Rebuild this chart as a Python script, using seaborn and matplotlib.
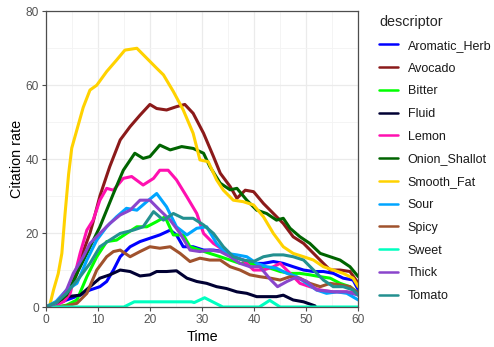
import numpy as np
import pandas as pd
import matplotlib
matplotlib.use("Agg")
import matplotlib.pyplot as plt
import seaborn as sns
from matplotlib.ticker import MultipleLocator

# ---------------- data ----------------
descriptors = ["Aromatic_Herb", "Avocado", "Bitter", "Fluid", "Lemon", "Onion_Shallot",
               "Smooth_Fat", "Sour", "Spicy", "Sweet", "Thick", "Tomato"]
colors = ["#0000FF", "#8B1A1A", "#00FF00", "#000033", "#FF10B0", "#006400",
          "#FFD200", "#00A5FF", "#A0522D", "#00FFC0", "#8A45CC", "#239090"]

aromatic_t = [0, 2, 4, 6.6, 8.5, 10.4, 11.7, 13, 14.3, 16.2, 18.1, 20, 21.9, 23.9, 25.1, 26.4, 28.3, 30.3, 32.2,
              34.1, 36, 37.9, 39.9, 41.8, 43.7, 45.6, 47.5, 49.5, 51.4, 53.3, 55.2, 57.1, 59, 60]
aromatic_y = [0, 0.8, 1.9, 3.2, 4.6, 5.5, 6.9, 10, 13.6, 16.3, 17.7, 18.6, 19.5, 20.8, 19.5, 16.3, 16.3, 15.4, 15.4,
              15, 13.6, 12.7, 11.8, 11.8, 12.3, 11.8, 10.9, 10, 9.6, 9.6, 9.1, 7.8, 7.3, 4.6]

avocado_t = [0, 1, 2, 3, 4, 6, 7.2, 8.5, 9.1, 10.4, 11.7, 12.3, 14.3, 16.2, 18.1, 20, 21.3, 23.2, 25.1, 26.7, 28.3,
             30.3, 32.2, 33.5, 35.4, 36.7, 38.3, 39.9, 41.8, 43.7, 45.6, 47.5, 49.5, 51.4, 53.3, 54.6, 56.5, 58.4, 60]
avocado_y = [0, 0.3, 0.8, 1.5, 2.3, 9, 15, 20, 23, 30, 35.5, 38, 45.2, 48.8, 51.9, 54.8, 53.7, 53.3, 54.2, 54.8, 52.4,
             47, 40.7, 36.2, 32.6, 29.4, 31.6, 31.2, 28, 25.3, 22.6, 19, 17.2, 14.5, 11.8, 10, 10, 9.6, 6.4]

bitter_t = [0, 2, 4, 6, 7.9, 9.8, 11.7, 13.6, 15.5, 17.5, 19.4, 21.3, 22.9, 24.5, 26.4, 27.7, 29.6, 31.5, 33.5,
            35.4, 37.3, 39.2, 41.1, 43.1, 45, 46.9, 48.8, 50.7, 52.7, 54.6, 56.5, 58.4, 60]
bitter_y = [0, 0, 0.5, 1.9, 8.2, 13.6, 17.7, 18.1, 19.9, 21.7, 21.7, 23.1, 24.4, 19.5, 19.5, 16.3, 15.4, 14.5, 13.6,
            12.7, 11.8, 11.8, 10.9, 10.5, 9.6, 9.1, 9.1, 8.7, 8.2, 7.8, 6.4, 5.5, 3.7]

fluid_t = [0, 1, 2.5, 4, 6.6, 8.5, 10.4, 12.3, 14.3, 16.2, 18.1, 20, 21.3, 23.2, 25.1, 27.1, 29, 30.9, 32.8, 34.7,
           36.7, 38.6, 40.5, 42.4, 44.3, 45.6, 47.5, 49.5, 50.7, 51.7]
fluid_y = [0, 0.3, 1.5, 2.8, 3.2, 5.5, 7.8, 8.7, 10, 9.6, 8.4, 8.7, 9.6, 9.6, 9.8, 7.8, 6.9, 6.4, 5.5, 5,
           4.1, 3.7, 2.8, 2.8, 2.8, 3.2, 1.9, 1.4, 0.8, 0.3]

lemon_t = [0, 2, 3.5, 4.7, 6.6, 7.9, 9.1, 10.4, 11.7, 13, 14.9, 16.5, 18.7, 20.7, 21.9, 23.5, 25.1, 27.1, 29, 30.3,
           32.2, 34.1, 36, 37.9, 39.9, 41.8, 43.7, 45, 46.9, 48.8, 50.7, 52.7, 55.2, 57.7, 60]
lemon_y = [0, 0.5, 1.5, 3.7, 14.5, 20.8, 23.5, 28.9, 32.1, 31.6, 34.8, 35.3, 33, 34.8, 37, 37, 34.4, 29.8, 25.3, 19.9,
           17.2, 15.4, 13.6, 12.7, 10, 10, 10.9, 11.8, 9.1, 6.4, 5.5, 4.6, 4.1, 4.1, 3.7]

onion_t = [0, 1, 2, 4, 6, 7.9, 10.4, 13, 14.9, 17.1, 18.7, 20, 21.9, 23.9, 26.1, 28.3, 30.3, 31.5, 33.5, 35.4, 36.7,
           38.6, 40.5, 42.4, 44.3, 45.6, 46.9, 48.8, 50.7, 52.7, 54.6, 56.5, 58.4, 60]
onion_y = [0, 0.3, 1, 3.2, 9.1, 14.5, 21.7, 30.7, 37, 41.6, 40.2, 40.7, 43.8, 42.5, 43.4, 42.9, 41.6, 38, 33.5, 31.7,
           32.1, 28.9, 26.2, 25.3, 23.5, 24, 21.3, 19, 17.2, 14.5, 13.6, 12.7, 10.9, 8.2]

smooth_t = [0, 0.7, 1.5, 2.4, 3.1, 3.7, 4.4, 5, 6, 7.2, 8.5, 9.8, 11.7, 13.6, 15.2, 17.5, 19.4, 21.3, 22.6, 24.5,
            26.4, 28.3, 29.6, 31.2, 32.8, 34.1, 36, 37.9, 39.9, 41.8, 43.7, 45.6, 47.5, 49.5, 51.4, 53.3, 55.2,
            57.1, 59, 60]
smooth_y = [0, 0, 4.6, 9, 14.5, 25, 36, 43, 48, 54, 58.7, 60, 63.7, 66.8, 69.5, 70, 67.3, 64.6, 62.8, 58.3,
            53.3, 47, 39.8, 39.3, 34.4, 31.6, 28.9, 28.5, 27.6, 24.4, 19.9, 16.3, 14.5, 13.6, 12.7, 10.9, 10,
            9.1, 7.8, 5.5]

sour_t = [0, 2, 4, 6, 7.9, 9.8, 11.7, 13.6, 15.5, 17.5, 19.4, 21.3, 23.2, 25.1, 27.1, 29, 30.9, 32.8, 34.7, 36.7,
          38.6, 40.5, 42.4, 44.3, 46.3, 48.2, 50.1, 52, 53.9, 55.9, 57.8, 60]
sour_y = [0, 1.5, 4.6, 6.4, 12.7, 18.1, 21.7, 24.4, 26.7, 26.2, 28.5, 30.7, 27.1, 21.7, 19.5, 21.3, 21.7, 17.2, 14.5,
          14.1, 13.6, 11.8, 10.9, 10.5, 9.1, 8.2, 6.4, 4.6, 3.7, 4.1, 3.7, 1.9]

spicy_t = [0, 2, 4, 6, 7.9, 9.8, 11.7, 13, 14.3, 16.2, 18.1, 20, 21.9, 23.9, 25.8, 27.7, 29.6, 31.5, 33.5, 35.4,
           37.3, 39.2, 41.1, 43.1, 45, 46.9, 48.8, 50.7, 52.7, 54.6, 56.5, 58.4, 60]
spicy_y = [0, 0, 0.3, 1, 3.7, 10, 13.6, 15, 15.4, 13.6, 15, 16.3, 15.9, 16.3, 14.5, 12.3, 13.2, 12.7, 12.7, 10.9,
           10, 8.7, 8.2, 7.8, 7.3, 8.2, 7.8, 6.4, 5.5, 6.4, 6, 5.5, 3.7]

sweet_t = [0, 15, 17, 28, 28.5, 30.5, 34, 41, 43, 45, 60]
sweet_y = [0, 0, 1.4, 1.4, 1.2, 2.5, 0, 0, 1.8, 0, 0]

thick_t = [0, 2, 4, 5.3, 7.2, 8.5, 10.4, 12.3, 14.3, 16.2, 18.1, 20, 21.9, 23.9, 25.8, 27.7, 29.6, 31.5, 33.5, 35.4,
           37.3, 39.2, 41.1, 43.1, 44.5, 46.3, 48, 50, 52, 55.2, 57.8, 60]
thick_y = [0, 1, 4.6, 9.1, 13.6, 17.2, 19.9, 22.6, 24.9, 26.2, 28.9, 28.9, 26.2, 23.5, 19.9, 15.4, 15, 15.4, 15, 13.6,
           11.8, 10.9, 10.9, 7.5, 5.5, 6.9, 8, 7, 4.6, 4.1, 4.1, 3.2]

tomato_t = [0, 2, 4, 6.6, 8.5, 10.4, 12.3, 14.3, 16.8, 18.7, 20.7, 22.6, 24.5, 26.4, 28.3, 30.3, 32.2, 34.1, 36,
            37.9, 39.9, 41.8, 43.7, 45.6, 47.5, 49.5, 51.4, 53.3, 55.2, 57.1, 59, 60]
tomato_y = [0, 1.2, 3.7, 8.2, 11.8, 16.3, 18.1, 19.9, 20.8, 21.7, 25.8, 23.5, 25.3, 24, 24, 22.2, 19.9, 16.3, 13.6,
            12.7, 12.3, 13.6, 14.1, 14.1, 13.6, 12.7, 10, 7.3, 5.5, 5.5, 4.6, 3.2]

series = {
    "Aromatic_Herb": (aromatic_t, aromatic_y),
    "Avocado": (avocado_t, avocado_y),
    "Bitter": (bitter_t, bitter_y),
    "Fluid": (fluid_t, fluid_y),
    "Lemon": (lemon_t, lemon_y),
    "Onion_Shallot": (onion_t, onion_y),
    "Smooth_Fat": (smooth_t, smooth_y),
    "Sour": (sour_t, sour_y),
    "Spicy": (spicy_t, spicy_y),
    "Sweet": (sweet_t, sweet_y),
    "Thick": (thick_t, thick_y),
    "Tomato": (tomato_t, tomato_y),
}

frames = [pd.DataFrame({"Time": t, "Citation rate": y, "descriptor": name})
          for name, (t, y) in series.items()]
df = pd.concat(frames, ignore_index=True)

# ---------------- styling ----------------
sns.set_theme(style="white")
plt.rcParams["font.family"] = ["Liberation Sans", "DejaVu Sans"]

fig = plt.figure(figsize=(4.94, 3.47), dpi=100)
ax = fig.add_axes([45.7 / 494, 1 - 307 / 347, (358.3 - 45.7) / 494, (307 - 11.3) / 347])

sns.lineplot(data=df, x="Time", y="Citation rate", hue="descriptor", hue_order=descriptors,
             palette=dict(zip(descriptors, colors)), estimator=None, sort=False,
             linewidth=2.2, ax=ax, legend=True)

ax.set_xlim(0, 60)
ax.set_ylim(0, 80)
ax.xaxis.set_major_locator(MultipleLocator(10))
ax.yaxis.set_major_locator(MultipleLocator(20))
ax.xaxis.set_minor_locator(MultipleLocator(5))
ax.yaxis.set_minor_locator(MultipleLocator(10))
ax.grid(which="major", color="#EBEBEB", linewidth=0.9)
ax.grid(which="minor", color="#F3F3F3", linewidth=0.6)
ax.set_axisbelow(True)
for s in ax.spines.values():
    s.set_color("#4D4D4D")
    s.set_linewidth(0.9)
ax.tick_params(which="major", length=3, width=0.8, color="#4D4D4D", labelsize=8.6,
               labelcolor="#555555", pad=2, bottom=True, left=True)
ax.tick_params(which="minor", length=0)
ax.set_xlabel("Time", fontsize=10.4, color="black", labelpad=3)
ax.set_ylabel("Citation rate", fontsize=10.4, color="black", labelpad=1)

handles, labels = ax.get_legend_handles_labels()
ax.get_legend().remove()
for h in handles:
    h.set_linewidth(1.8)
leg = fig.legend(handles, labels, title="descriptor", loc="upper left",
                 bbox_to_anchor=(379 / 494, 1 - 15 / 347), frameon=False,
                 fontsize=9, title_fontsize=10.4, handlelength=1.5, handletextpad=0.8,
                 labelspacing=0.86, borderpad=0, borderaxespad=0, alignment="left")
for t in leg.get_texts():
    t.set_color("#1A1A1A")

fig.savefig("out.png", dpi=100)
